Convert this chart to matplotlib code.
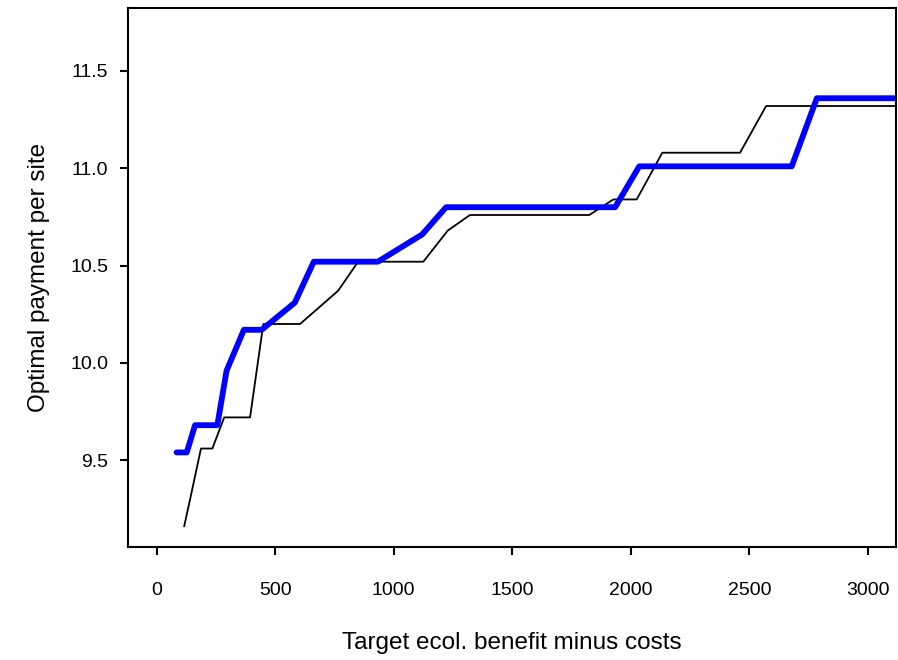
import matplotlib
matplotlib.use("Agg")
import matplotlib.pyplot as plt

plt.rcParams["font.family"] = ["Liberation Sans", "DejaVu Sans"]

# black curve
black_x = [116, 143, 187, 235, 285, 394, 450, 605, 765, 850, 1125, 1228, 1322,
           1825, 1927, 2025, 2133, 2461, 2571, 3200]
black_y = [9.16, 9.31, 9.56, 9.56, 9.72, 9.72, 10.20, 10.20, 10.37, 10.52, 10.52,
           10.68, 10.76, 10.76, 10.84, 10.84, 11.08, 11.08, 11.32, 11.32]

# blue (thick) curve
blue_x = [84, 127, 162, 256, 295, 368, 443, 583, 663, 933, 1120, 1221, 1934,
          2036, 2679, 2785, 3200]
blue_y = [9.54, 9.54, 9.68, 9.68, 9.96, 10.17, 10.17, 10.31, 10.52, 10.52, 10.66,
          10.80, 10.80, 11.01, 11.01, 11.36, 11.36]

x_ticks = [0, 500, 1000, 1500, 2000, 2500, 3000]
y_ticks = [9.5, 10.0, 10.5, 11.0, 11.5]

fig = plt.figure(figsize=(8.98, 6.60), dpi=100)
ax = fig.add_axes([0.1425, 0.1712, 0.8553, 0.8162])

ax.plot(black_x, black_y, color="black", lw=1.3,
        solid_capstyle="round", solid_joinstyle="round")
ax.plot(blue_x, blue_y, color="#0000ff", lw=4.2,
        solid_capstyle="round", solid_joinstyle="round")

ax.set_xlim(-121, 3119)
ax.set_ylim(9.054, 11.822)
ax.set_xticks(x_ticks)
ax.set_xticklabels([str(t) for t in x_ticks])
ax.set_yticks(y_ticks)
ax.set_yticklabels(["%.1f" % t for t in y_ticks])

for s in ax.spines.values():
    s.set_linewidth(1.5)
ax.tick_params(axis="both", direction="out", length=5.5, width=1.5, labelsize=14)
ax.tick_params(axis="x", pad=19.5)
ax.tick_params(axis="y", pad=8.6)

ax.set_xlabel("Target ecol. benefit minus costs", fontsize=17.5, labelpad=24)
ax.set_ylabel("Optimal payment per site", fontsize=17.5, labelpad=15)

fig.savefig("out.png", dpi=100)
